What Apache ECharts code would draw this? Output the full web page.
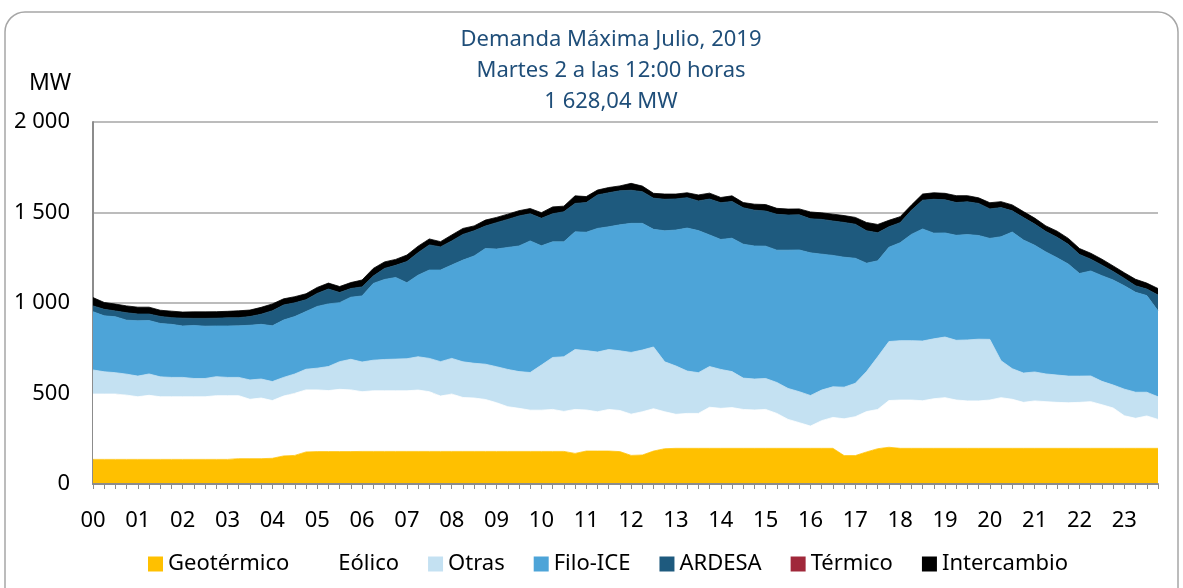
<!DOCTYPE html>
<html>
<head>
<meta charset="utf-8">
<script src="https://cdn.jsdelivr.net/npm/echarts@6/dist/echarts.min.js"></script>
<style>
  html, body { margin: 0; padding: 0; background: #ffffff; }
  #chart { width: 1183px; height: 588px; }
</style>
</head>
<body>
<div id="chart"></div>
<script>
// ---- Data (MW, 15-minute intervals) ----
const hours = ['00','01','02','03','04','05','06','07','08','09','10','11',
               '12','13','14','15','16','17','18','19','20','21','22','23'];
const quarters = ['00','15','30','45'];
const yTicks = [0, 500, 1000, 1500, 2000];

const geotermico = [
  136,136,136,136,136,136,136,136,136,136,136,136,136,140,140,140,142,155,158,177,179,179,179,179,
  180,180,180,180,180,180,180,180,180,180,180,180,180,180,180,180,180,180,180,169,182,182,182,179,
  158,160,182,195,197,197,197,197,197,197,197,197,197,197,197,197,197,197,197,157,157,177,195,203,
  197,197,197,197,197,197,197,197,197,197,197,197,197,197,197,197,197,197,197,197,197,197,197,197
];
const eolico = [
  361,361,361,355,346,354,346,346,346,346,346,352,352,348,328,335,319,331,343,343,341,337,344,341,
  330,335,335,335,335,339,330,306,317,298,295,287,269,247,238,228,228,232,221,243,227,217,230,227,
  228,239,234,204,188,193,193,227,221,225,215,212,215,193,160,142,123,153,171,203,215,223,217,258,
  267,267,263,274,280,267,262,262,267,280,271,254,262,258,254,252,254,258,241,223,180,166,179,160
];
const otras = [
  133,123,118,116,114,118,110,107,107,101,101,105,101,101,107,105,105,103,107,114,120,133,153,169,
  164,169,173,175,177,184,184,190,197,197,192,195,199,206,203,208,249,287,302,331,328,330,331,330,
  341,341,341,276,267,234,225,225,215,199,173,171,171,171,171,171,169,169,169,175,184,221,291,326,
  328,328,330,331,335,330,337,341,335,204,169,162,160,153,151,147,145,142,129,127,147,144,131,125
];
const filoICE = [
  322,309,309,298,306,295,295,293,284,293,289,280,284,285,302,302,308,317,317,319,341,346,326,343,
  365,424,442,451,420,451,488,506,516,562,593,639,650,674,694,727,659,639,635,650,654,683,678,696,
  713,700,650,724,751,790,785,727,718,737,740,735,731,731,764,783,788,751,726,718,691,599,530,521,
  541,587,619,584,575,580,582,573,558,685,755,735,700,674,648,619,567,580,584,580,571,552,534,475
];
const ardesa = [
  32,36,32,41,37,36,39,37,43,39,43,43,45,45,48,56,83,83,76,65,72,82,56,48,
  50,41,61,67,117,124,139,128,133,142,139,124,146,155,166,150,152,155,166,157,164,185,188,188,
  183,175,172,174,172,168,164,198,203,203,201,198,194,198,194,194,188,192,190,192,188,179,155,113,
  111,133,159,187,183,181,181,177,163,161,117,124,117,113,113,109,105,65,58,47,41,36,36,87
];
const termico = [
  0,0,0,0,0,0,0,0,0,0,0,0,0,0,0,0,0,0,0,0,0,0,0,0,
  0,0,0,0,0,0,0,0,0,0,0,0,0,0,0,0,0,0,0,0,0,0,0,0,
  0,0,0,0,0,0,0,0,0,0,0,0,0,0,0,0,0,0,0,0,0,0,0,0,
  0,0,0,0,0,0,0,0,0,0,0,0,0,0,0,0,0,0,0,0,0,0,0,0
];
const intercambio = [
  46,38,38,38,38,38,34,36,34,36,36,36,36,38,36,38,38,34,34,33,33,33,33,33,
  38,42,36,33,36,36,33,29,33,33,27,33,29,29,29,29,31,38,31,42,33,27,29,27,
  38,31,27,29,27,27,33,33,29,31,29,33,36,33,33,33,38,36,38,38,38,46,46,36,
  33,29,34,36,36,38,34,31,34,33,33,33,33,31,34,33,33,33,33,31,31,36,33,36
];

const seriesNames = ['Geotérmico','Eólico','Otras','Filo-ICE','ARDESA','Térmico','Intercambio'];
const seriesColors = ['#FFC000','#FFFFFF','#C4E1F2','#4DA4D8','#1E5A7E','#A0283A','#000000'];
const seriesData = [geotermico, eolico, otras, filoICE, ardesa, termico, intercambio];

const categories = [];
hours.forEach(h => quarters.forEach(q => categories.push(h + ':' + q)));

const FONT = 'Noto Sans';

function fmtThousands(v) {
  if (v >= 1000) {
    const r = String(v % 1000);
    return Math.floor(v / 1000) + ' ' + ('000' + r).slice(-3);
  }
  return String(v);
}

const chart = echarts.init(document.getElementById('chart'), null, { renderer: 'canvas' });

const option = {
  backgroundColor: '#ffffff',
  animation: false,
  title: {
    text: 'Demanda Máxima Julio, 2019\nMartes 2 a las 12:00 horas\n1 628,04 MW',
    left: 606,
    textAlign: 'center',
    top: 19,
    textStyle: {
      fontFamily: FONT,
      fontSize: 22,
      fontWeight: 'normal',
      color: '#1F4E79',
      lineHeight: 31
    }
  },
  graphic: [
    {
      type: 'rect',
      shape: { x: 5, y: 12, width: 1173, height: 600, r: 20 },
      style: { fill: 'none', stroke: '#A6A6A6', lineWidth: 1.5 },
      silent: true,
      z: -10
    },
    {
      type: 'text',
      left: 29,
      top: 72,
      style: { text: 'MW', fontFamily: FONT, fontSize: 23, fill: '#000000' }
    }
  ],
  legend: {
    left: 143,
    top: 548,
    itemWidth: 15,
    itemHeight: 15,
    itemGap: 29,
    icon: 'rect',
    data: seriesNames,
    textStyle: { fontFamily: FONT, fontSize: 22, color: '#000000' },
    selectedMode: false
  },
  grid: { left: 93, right: 25, top: 122, bottom: 104, containLabel: false },
  xAxis: {
    type: 'category',
    data: categories,
    boundaryGap: false,
    z: 10,
    axisLine: { show: true, lineStyle: { color: '#8C8C8C', width: 2 } },
    axisTick: { show: true, interval: 0, length: 5, lineStyle: { color: '#8C8C8C', width: 1 } },
    axisLabel: {
      interval: 3,
      margin: 26,
      fontFamily: FONT,
      fontSize: 22,
      color: '#000000',
      formatter: v => v.slice(0, 2)
    },
    splitLine: { show: false }
  },
  yAxis: {
    type: 'value',
    min: yTicks[0],
    max: yTicks[yTicks.length - 1],
    interval: yTicks[1] - yTicks[0],
    axisLine: { show: true, lineStyle: { color: '#8C8C8C', width: 2 } },
    axisTick: { show: false },
    axisLabel: {
      margin: 23,
      fontFamily: FONT,
      fontSize: 22,
      color: '#000000',
      formatter: v => fmtThousands(v)
    },
    splitLine: { show: true, lineStyle: { color: '#A6A6A6', width: 1.5 } }
  },
  series: seriesNames.map((name, k) => ({
    name: name,
    type: 'line',
    stack: 'total',
    data: seriesData[k],
    showSymbol: false,
    symbol: 'none',
    smooth: false,
    color: seriesColors[k],
    itemStyle: { color: seriesColors[k] },
    lineStyle: name === 'Térmico'
      ? { width: 0, opacity: 0, color: seriesColors[k] }
      : { width: 0.8, color: seriesColors[k] },
    areaStyle: { color: seriesColors[k], opacity: 1 },
    emphasis: { disabled: true }
  }))
};

chart.setOption(option);
</script>
</body>
</html>
